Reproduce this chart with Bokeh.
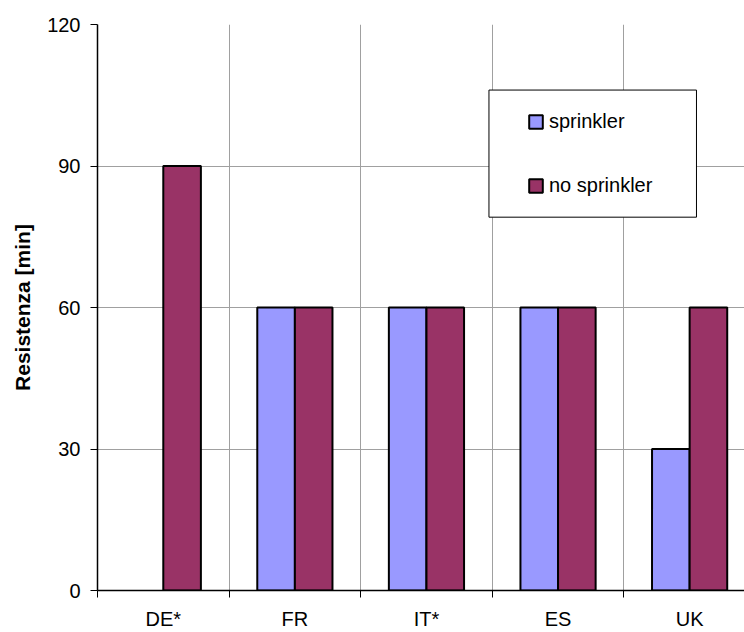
from bokeh.plotting import figure
from bokeh.models import ColumnDataSource, FixedTicker, Range1d, Legend, LegendItem, BoxAnnotation
from bokeh.embed import file_html
from bokeh.resources import INLINE

# Fire resistance required per country, with and without sprinklers
countries = ["DE*", "FR", "IT*", "ES", "UK"]
sprinkler = [float("nan"), 60, 60, 60, 30]
no_sprinkler = [90, 60, 60, 60, 60]
y_ticks = [0, 30, 60, 90, 120]

FONT = "Liberation Sans"
BAR_W = 1 / 3.5                      # two bars plus a 150% gap per category
centers = [i + 0.5 for i in range(len(countries))]
bounds = list(range(len(countries) + 1))

src = ColumnDataSource(dict(
    x_s=[c - BAR_W / 2 for c in centers],
    x_n=[c + BAR_W / 2 for c in centers],
    s=sprinkler,
    n=no_sprinkler,
))

p = figure(width=744, height=632, output_backend="svg", toolbar_location=None,
           x_range=Range1d(0, 4.917), y_range=Range1d(0, 120),
           min_border_left=97, min_border_right=0, min_border_top=24, min_border_bottom=40)
p.outline_line_color = None
p.background_fill_color = "white"
p.border_fill_color = "white"

# grid: vertical lines between categories, horizontal at the value ticks
p.xgrid.ticker = FixedTicker(ticks=bounds[1:])
p.ygrid.ticker = FixedTicker(ticks=y_ticks)
for g in (p.xgrid[0], p.ygrid[0]):
    g.grid_line_color = "#a0a0a0"
    g.grid_line_width = 1

# x axis: labels at category centres, small ticks at category boundaries
xa = p.xaxis[0]
xa.ticker = FixedTicker(ticks=centers, minor_ticks=bounds)
xa.major_label_overrides = {c: name for c, name in zip(centers, countries)}
xa.major_tick_line_color = None
xa.major_tick_out = 6
xa.major_tick_in = 0
xa.minor_tick_out = 7
xa.minor_tick_in = 0
xa.minor_tick_line_color = "black"
xa.axis_line_color = "black"
xa.axis_line_width = 1.5
xa.major_label_text_font = FONT
xa.major_label_text_font_size = "20px"
xa.major_label_text_color = "black"
xa.major_label_standoff = 10

ya = p.yaxis[0]
ya.ticker = FixedTicker(ticks=y_ticks)
ya.major_tick_out = 7
ya.major_tick_in = 0
ya.minor_tick_line_color = None
ya.axis_line_color = "black"
ya.axis_line_width = 1.5
ya.major_label_text_font = FONT
ya.major_label_text_font_size = "20px"
ya.major_label_text_color = "black"
ya.major_label_standoff = 10
ya.axis_label = "Resistenza [min]"
ya.axis_label_text_font = FONT
ya.axis_label_text_font_size = "21px"
ya.axis_label_text_font_style = "bold"
ya.axis_label_text_color = "black"
ya.axis_label_standoff = 10

r_s = p.vbar(x="x_s", top="s", bottom=0, width=BAR_W, source=src,
             fill_color="#9999FF", line_color="black", line_width=2)
r_n = p.vbar(x="x_n", top="n", bottom=0, width=BAR_W, source=src,
             fill_color="#993366", line_color="black", line_width=2)

# legend frame
box = BoxAnnotation(left=2.975, right=4.552, top=106.1, bottom=79.15,
                    fill_color="white", fill_alpha=1.0,
                    line_color="black", line_alpha=1.0, line_width=1)
p.add_layout(box)

legend = Legend(items=[LegendItem(label="sprinkler", renderers=[r_s]),
                       LegendItem(label="no sprinkler", renderers=[r_n])],
                location=(430, 393), padding=0, spacing=41, margin=0,
                glyph_width=17, glyph_height=17, label_standoff=5,
                label_text_font=FONT, label_text_font_size="20px",
                label_text_color="black",
                border_line_color=None, background_fill_alpha=0)
p.add_layout(legend)

open("out.html", "w").write(file_html(p, INLINE))
